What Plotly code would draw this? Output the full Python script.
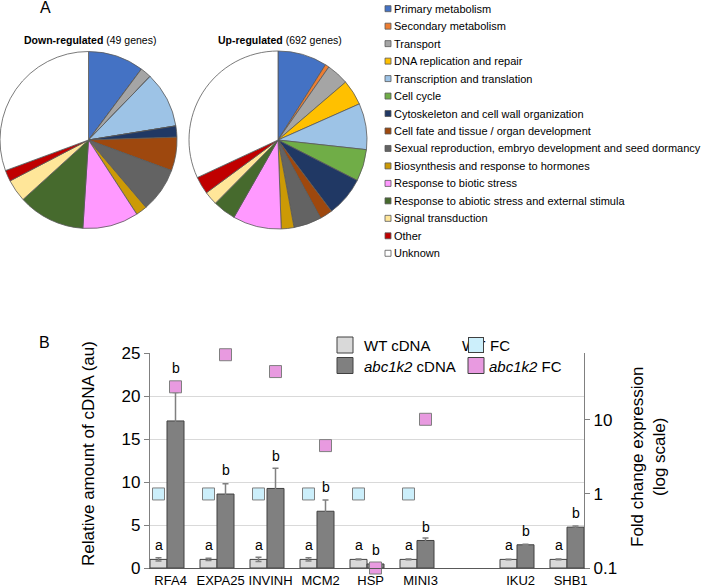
import plotly.graph_objects as go

W, H = 709, 586
FONT = "Liberation Sans, Arial, sans-serif"


def px(x):
    return x / W


def py(y):
    return 1 - y / H


# ---------------- Panel A data ----------------
categories = [
    "Primary metabolism",
    "Secondary metabolism",
    "Transport",
    "DNA replication and repair",
    "Transcription and translation",
    "Cell cycle",
    "Cytoskeleton and cell wall organization",
    "Cell fate and tissue / organ development",
    "Sexual reproduction, embryo development and seed dormancy",
    "Biosynthesis and response to hormones",
    "Response to biotic stress",
    "Response to abiotic stress and external stimula",
    "Signal transduction",
    "Other",
    "Unknown",
]
cat_colors = [
    "#4472C4", "#ED7D31", "#A5A5A5", "#FFC000", "#9DC3E6",
    "#70AD47", "#203864", "#9E480E", "#636363", "#CC9A06",
    "#FF99FF", "#466A2D", "#FFE699", "#C00000", "#FFFFFF",
]
down_counts = [5, 0, 1, 0, 5, 0, 1, 3, 4, 1, 5, 6, 2, 1, 15]
up_counts = [62, 5, 28, 32, 58, 40, 50, 16, 35, 16, 61, 29, 17, 22, 221]

# ---------------- Panel B data ----------------
genes = ["RFA4", "EXPA25", "INVINH", "MCM2", "HSP", "MINI3", "IKU2", "SHB1"]
gene_pos = [0, 1, 2, 3, 4, 5, 7, 8]
wt_cdna = [1.0, 1.0, 1.0, 1.0, 1.0, 1.0, 1.0, 1.0]
wt_err = [0.2, 0.12, 0.25, 0.2, 0.04, 0.04, 0.03, 0.04]
mut_cdna = [17.1, 8.6, 9.25, 6.6, 0.47, 3.2, 2.7, 4.75]
mut_err = [3.3, 1.2, 2.35, 1.3, 0.08, 0.3, 0.05, 0.12]
wt_fc = [1, 1, 1, 1, 1, 1, None, None]
mut_fc = [28, 76, 45, 4.5, 0.1, 10.2, None, None]
wt_letters = ["a"] * 8
wt_letter_y = [2.7] * 8
mut_letters = ["b"] * 8
mut_letter_y = [23.2, 11.4, 13.0, 9.4, 2.1, 4.8, 4.3, 6.4]

BW = 0.34  # bar width in category units

fig = go.Figure()

# ---------------- Pies ----------------
pie_line = dict(color="#595959", width=0.8)
fig.add_trace(go.Pie(
    labels=categories, values=down_counts, sort=False, direction="clockwise",
    rotation=0, textinfo="none", showlegend=False,
    marker=dict(colors=cat_colors, line=pie_line),
    domain=dict(x=[px(0), px(177)], y=[py(229), py(51)]),
))
fig.add_trace(go.Pie(
    labels=categories, values=up_counts, sort=False, direction="clockwise",
    rotation=0, textinfo="none", showlegend=False,
    marker=dict(colors=cat_colors, line=pie_line),
    domain=dict(x=[px(189), px(367)], y=[py(229), py(51)]),
))

# ---------------- Bars ----------------
fig.add_trace(go.Bar(
    x=gene_pos, y=wt_cdna, width=BW, offset=-BW, name="WT cDNA",
    marker=dict(color="#D9D9D9", line=dict(color="#404040", width=1)),
    error_y=dict(type="data", array=wt_err, color="#808080", thickness=1.5, width=3),
    showlegend=False,
))
fig.add_trace(go.Bar(
    x=gene_pos, y=mut_cdna, width=BW, offset=0, name="abc1k2 cDNA",
    marker=dict(color="#808080", line=dict(color="#404040", width=1)),
    error_y=dict(type="data", array=mut_err, color="#808080", thickness=1.5, width=3),
    showlegend=False,
))
fig.add_trace(go.Scatter(
    x=[p - BW / 2 for p in gene_pos], y=wt_fc, yaxis="y2", mode="markers",
    marker=dict(symbol="square", size=12, color="#CCEFFB", line=dict(color="#7F7F7F", width=1)),
    cliponaxis=False, showlegend=False,
))
fig.add_trace(go.Scatter(
    x=[p + BW / 2 for p in gene_pos], y=mut_fc, yaxis="y2", mode="markers",
    marker=dict(symbol="square", size=12, color="#E89AE0", line=dict(color="#7F7F7F", width=1)),
    cliponaxis=False, showlegend=False,
))

annotations = []
shapes = []


def note(x, y, text, size, **kw):
    d = dict(x=px(x), y=py(y), xref="paper", yref="paper", text=text,
             showarrow=False, xanchor="center", yanchor="middle",
             font=dict(size=size, color="#000"))
    d.update(kw)
    annotations.append(d)


# Significance letters
for p, t, yv in zip(gene_pos, wt_letters, wt_letter_y):
    annotations.append(dict(x=p - BW / 2, y=yv, xref="x", yref="y", text=t,
                            xanchor="center", yanchor="middle",
                            showarrow=False, font=dict(size=14, color="#000")))
for p, t, yv in zip(gene_pos, mut_letters, mut_letter_y):
    annotations.append(dict(x=p + BW / 2, y=yv, xref="x", yref="y", text=t,
                            xanchor="center", yanchor="middle",
                            showarrow=False, font=dict(size=14, color="#000")))

# Panel labels
note(45, 8, "A", 16)
note(44, 342, "B", 16)

# Pie titles
note(90, 40, "<b>Down-regulated</b> (49 genes)", 10.5)
note(280, 40, "<b>Up-regulated</b> (692 genes)", 10.5)

# Panel A legend
for i, (lab, col) in enumerate(zip(categories, cat_colors)):
    yc = 8.7 + i * 17.47
    shapes.append(dict(type="rect", xref="paper", yref="paper",
                       x0=px(385), x1=px(391), y0=py(yc + 3), y1=py(yc - 3),
                       fillcolor=col, line=dict(color="#595959", width=0.8)))
    note(392, yc, lab, 11, xanchor="left")

# Panel B legend (white box over gridline)
shapes.append(dict(type="rect", xref="paper", yref="paper", layer="above",
                   x0=px(326), x1=px(575), y0=py(378), y1=py(336),
                   fillcolor="#FFFFFF", line=dict(width=0)))
for (x0, y0, col) in [(337, 337, "#D9D9D9"), (337, 357.5, "#808080"), (468, 357.5, "#E89AE0")]:
    shapes.append(dict(type="rect", xref="paper", yref="paper", layer="above",
                       x0=px(x0), x1=px(x0 + 16), y0=py(y0 + 16), y1=py(y0),
                       fillcolor=col, line=dict(color="#404040", width=1)))
note(362, 345.5, "WT cDNA", 15, xanchor="left")
note(362, 366, "<i>abc1k2</i> cDNA", 15, xanchor="left")
note(460, 345.5, "WT", 15, xanchor="left")
note(468, 337, " ", 10, xanchor="left", yanchor="top", width=14, height=14,
     borderpad=0, borderwidth=1, bordercolor="#404040", bgcolor="#CCEFFB")
note(488, 345.5, "FC", 15, xanchor="left")
note(487, 366, "<i>abc1k2</i> FC", 15, xanchor="left")

# Axis titles
note(88, 454, "Relative amount of cDNA (au)", 17, textangle=-90)
note(649, 457, "Fold change expression<br>(log scale)", 17, textangle=-90)

NB = "\u00a0\u00a0"
fig.update_layout(
    width=W, height=H, autosize=False,
    margin=dict(l=0, r=0, t=0, b=0, autoexpand=False),
    paper_bgcolor="#FFFFFF", plot_bgcolor="#FFFFFF",
    font=dict(family=FONT, color="#000"),
    barmode="overlay",
    xaxis=dict(domain=[px(150), px(584)], range=[-BW, 8 + BW],
               tickvals=gene_pos, ticktext=[NB + g for g in genes],
               tickfont=dict(size=13),
               tickangle=0, automargin=False,
               showgrid=False, zeroline=False, showline=True, linecolor="#595959",
               linewidth=1.2, ticks="", anchor="y"),
    yaxis=dict(domain=[py(568), py(353)], range=[0, 25], dtick=5,
               showgrid=True, gridcolor="#D9D9D9", gridwidth=1, zeroline=False,
               showline=True, linecolor="#808080", linewidth=1.2,
               ticks="outside", ticklen=5, tickcolor="#808080", automargin=False,
               tickfont=dict(size=17), anchor="x"),
    yaxis2=dict(type="log", range=[-1, 1.904], overlaying="y", side="right",
                tickvals=[0.1, 1, 10], ticktext=["0.1", "1", "10"],
                showgrid=False, zeroline=False, showline=True, linecolor="#808080",
                linewidth=1.2, ticks="outside", ticklen=5, tickcolor="#808080",
                automargin=False, tickfont=dict(size=17), anchor="x"),
    annotations=annotations,
    shapes=shapes,
)

fig.write_html("out.html")
